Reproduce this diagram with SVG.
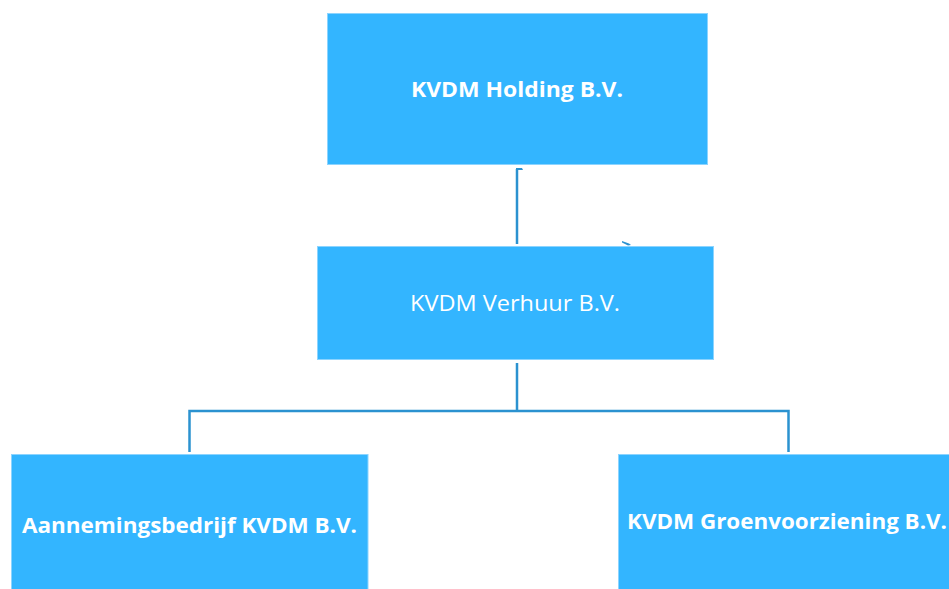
<svg xmlns="http://www.w3.org/2000/svg" width="949" height="589" viewBox="0 0 949 589">
<style>
.box{fill:#33B5FF;stroke:#8CD4FF;stroke-width:1}
.lbl{fill:#FFFFFF;font-family:"Open Sans","Noto Sans","Liberation Sans",sans-serif;font-size:22px;text-anchor:middle}
.b{font-weight:bold}
.con{fill:none;stroke:#2B92D0;stroke-width:2.5}
</style>
<rect width="949" height="589" fill="#FFFFFF"/>
<g id="connectors">
<path class="con" d="M517 244 V169"/>
<path d="M516 168 h6 l1 2 h-5 v1 h-2 z" fill="#2B92D0"/>
<path d="M622 241 l7 2.5 l2 1.5 l-3 0.5 l-6 -3 z" fill="#2B92D0"/>
<path class="con" d="M517 363 V411 M189.5 452 V411 H788.5 V452"/>
</g>
<g id="holding">
<rect class="box" x="327.5" y="13.5" width="380" height="151"/>
<text class="lbl b" x="517" y="97" textLength="212" lengthAdjust="spacingAndGlyphs">KVDM Holding B.V.</text>
</g>
<g id="verhuur">
<rect class="box" x="317.5" y="246.5" width="396" height="113"/>
<text class="lbl" x="515" y="311" textLength="210" lengthAdjust="spacingAndGlyphs">KVDM Verhuur B.V.</text>
</g>
<g id="aannemingsbedrijf">
<rect class="box" x="11.5" y="454.5" width="356.5" height="140"/>
<text class="lbl b" x="189.5" y="533" textLength="335" lengthAdjust="spacingAndGlyphs">Aannemingsbedrijf KVDM B.V.</text>
</g>
<g id="groenvoorziening">
<rect class="box" x="618.5" y="454.5" width="340" height="140"/>
<text class="lbl b" x="787" y="529" textLength="320" lengthAdjust="spacingAndGlyphs">KVDM Groenvoorziening B.V.</text>
</g>
</svg>
